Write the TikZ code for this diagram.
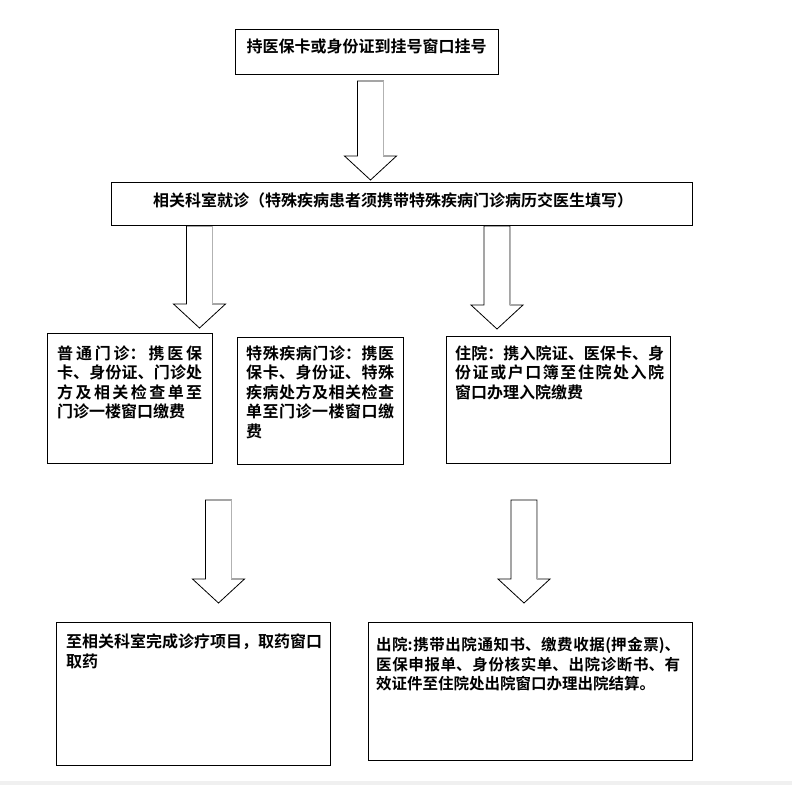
\documentclass[tikz,border=0pt]{standalone}
\usepackage{fontspec}
\usetikzlibrary{calc}
\newfontfamily\cjk[BoldFont={Noto Sans CJK SC Bold}]{Noto Sans CJK SC}
\XeTeXlinebreaklocale "zh"
\XeTeXlinebreakskip = 0pt plus 3pt
% block arrow from shaft top #1 to tip #2
\newcommand\bigarrow[2]{%
  \draw[ar] let \p1=(#1), \p2=(#2) in
    (\x1-13,\y1) -- (\x1+13,\y1) -- (\x1+13,\y2+24) -- (\x1+26,\y2+24)
    -- (\x2,\y2) -- (\x1-26,\y2+24) -- (\x1-13,\y2+24) -- cycle;
  \draw[gray!60,line width=0.8pt] let \p1=(#1), \p2=(#2) in
    (\x1+13,\y1) -- (\x1+13,\y2+24);}

\begin{document}
\begin{tikzpicture}[x=1pt,y=-1pt,
   box/.style={draw,line width=0.9pt,anchor=north west,inner sep=0pt},
   txt/.style={font=\cjk\bfseries\fontsize{16}{19.5}\selectfont,inner sep=0pt,anchor=base west},
   par/.style={txt,align=justify},
   ar/.style={draw=black,line width=0.8pt,fill=white}]
   % page
   \useasboundingbox (0,0) rectangle (792,785);
   \fill[gray!12] (0,781) rectangle (792,785);
   % boxes
   \node[box,minimum width=263pt,minimum height=45pt]  (reg)  at (235,29)  {};
   \node[box,minimum width=581pt,minimum height=43pt]  (dept) at (111,182) {};
   \node[box,minimum width=165pt,minimum height=130pt] (opd)  at (47,333)  {};
   \node[box,minimum width=166pt,minimum height=127pt] (spec) at (237,337) {};
   \node[box,minimum width=224pt,minimum height=127pt] (inp)  at (446,336) {};
   \node[box,minimum width=274pt,minimum height=143pt] (drug) at (56,622)  {};
   \node[box,minimum width=324pt,minimum height=138pt] (dis)  at (368,622) {};
   % texts
   \node[txt,anchor=base] (regt) at (366.5,52) {持医保卡或身份证到挂号窗口挂号};
   \node[txt] (deptt) at (153,206)
      {相关科室就诊（特殊疾病患者须携带特殊疾病门诊病历交医生填写）};
   \node[par,text width=145pt] (opdt) at (57,359)
      {普通门诊：携医保\linebreak 卡、身份证、门诊处\linebreak 方及相关检查单至\linebreak 门诊一楼窗口缴费};
   \node[par,text width=148pt] (spect) at (246,359)
      {特殊疾病门诊：携医\linebreak 保卡、身份证、特殊\linebreak 疾病处方及相关检查\linebreak 单至门诊一楼窗口缴\linebreak 费};
   \node[par,text width=209pt] (inpt) at (455,359)
      {住院：携入院证、医保卡、身\linebreak 份证或户口簿至住院处入院\linebreak 窗口办理入院缴费};
   \node[par,text width=258pt] (drugt) at (66,647.5)
      {至相关科室完成诊疗项目，取药窗口\\取药};
   \node[par,text width=304pt,font=\cjk\bfseries\fontsize{15.5}{19.5}\selectfont] (dist) at (376,650.5)
      {出院:携带出院通知书、缴费收据(押金票)、\linebreak 医保申报单、身份核实单、出院诊断书、有\linebreak 效证件至住院处出院窗口办理出院结算。};
   % arrow ends
   \coordinate (a1) at (370.5,81);  \coordinate (a1e) at (370.5,180);
   \coordinate (a2) at (199.5,226); \coordinate (a2e) at (199.5,328);
   \coordinate (a3) at (497,226);   \coordinate (a3e) at (497,329);
   \coordinate (a4) at (218.5,500); \coordinate (a4e) at (218.5,603);
   \coordinate (a5) at (524,500);   \coordinate (a5e) at (524,603);
   \bigarrow{a1}{a1e}
   \bigarrow{a2}{a2e}
   \bigarrow{a3}{a3e}
   \bigarrow{a4}{a4e}
   \bigarrow{a5}{a5e}
\end{tikzpicture}
\end{document}
